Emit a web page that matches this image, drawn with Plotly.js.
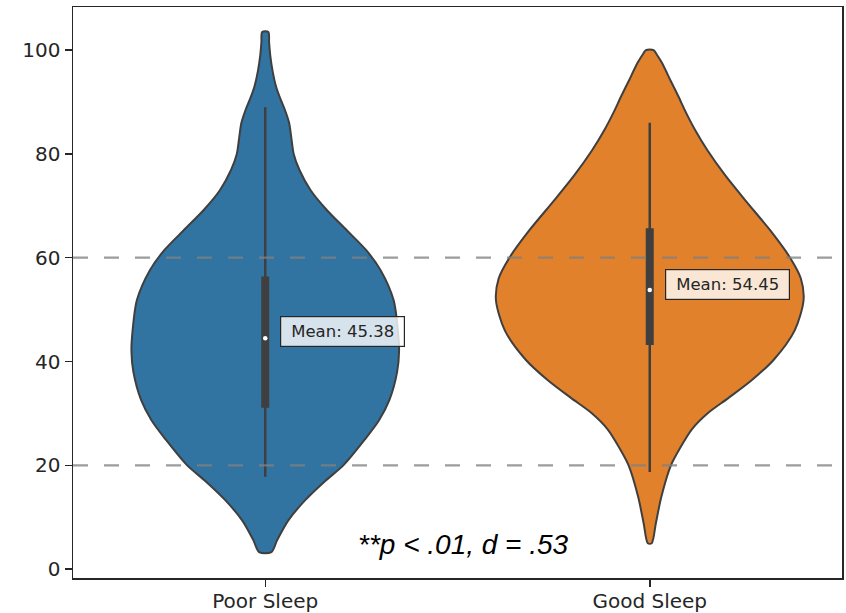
<!DOCTYPE html>
<html>
<head>
<meta charset="utf-8">
<script src="https://cdn.plot.ly/plotly-3.0.1.min.js"></script>
<style>
  html, body { margin: 0; padding: 0; background: #ffffff; }
  #chart { width: 846px; height: 613px; }
</style>
</head>
<body>
<div id="chart"></div>
<script>
// ---- Data ----
const categories = ['Poor Sleep', 'Good Sleep'];
const colors = ['#3274a1', '#e1812c'];

// Kernel-density outline: score levels and violin half-widths (category units)
const poorLevels    = [3.3, 5.6, 9.4, 13.3, 17, 20, 24.9, 28.7, 32.6, 38, 42, 46, 51.8, 57.6, 61.5, 65.3, 69.2, 73, 76.9, 80, 83, 86, 88.5, 90.5, 93, 96, 99, 101.5, 103.5];
const poorHalfWidth = [0.016, 0.031, 0.060, 0.104, 0.156, 0.203, 0.258, 0.296, 0.323, 0.343, 0.348, 0.345, 0.334, 0.300, 0.262, 0.212, 0.160, 0.118, 0.089, 0.074, 0.068, 0.062, 0.051, 0.040, 0.028, 0.019, 0.013, 0.010, 0.008];

const goodLevels    = [5, 8.9, 13.9, 20, 23.5, 27, 30, 33, 36.4, 40.3, 46, 51.8, 56, 60, 65.3, 71.1, 75.9, 80.7, 84.6, 88, 91, 94, 97.5, 99.3, 100];
const goodHalfWidth = [0.005, 0.016, 0.030, 0.055, 0.080, 0.110, 0.150, 0.205, 0.265, 0.322, 0.377, 0.400, 0.393, 0.365, 0.313, 0.248, 0.196, 0.150, 0.118, 0.094, 0.075, 0.055, 0.032, 0.017, 0.010];

// Box statistics
const whiskerLow  = [17.8, 18.7];
const whiskerHigh = [89.0, 86.0];
const q1          = [31.1, 43.2];
const q3          = [56.4, 65.7];
const medians     = [44.5, 53.8];
const means       = [45.38, 54.45];

const yTicks = [0, 20, 40, 60, 80, 100];
const refLines = [20, 60];
const statText = '**p < .01, d = .53';

// ---- Build traces ----
const levels = [poorLevels, goodLevels];
const halfWidths = [poorHalfWidth, goodHalfWidth];
const edge = '#3f3f3f';
const traces = [];

categories.forEach((cat, i) => {
  const ys = levels[i], hw = halfWidths[i];
  const xs = [], yy = [];
  for (let k = 0; k < ys.length; k++) { xs.push(i + hw[k]); yy.push(ys[k]); }
  for (let k = ys.length - 1; k >= 0; k--) { xs.push(i - hw[k]); yy.push(ys[k]); }
  xs.push(xs[0]); yy.push(yy[0]);
  traces.push({
    type: 'scatter', mode: 'lines', x: xs, y: yy,
    fill: 'toself', fillcolor: colors[i],
    line: { color: edge, width: 2, shape: 'spline', smoothing: 0.8 },
    hoverinfo: 'skip', showlegend: false
  });
  // whisker
  traces.push({
    type: 'scatter', mode: 'lines', x: [i, i], y: [whiskerLow[i], whiskerHigh[i]],
    line: { color: edge, width: 2.5 }, hoverinfo: 'skip', showlegend: false
  });
  // box (IQR)
  traces.push({
    type: 'scatter', mode: 'lines', x: [i, i], y: [q1[i], q3[i]],
    line: { color: edge, width: 8 }, hoverinfo: 'skip', showlegend: false
  });
  // median
  traces.push({
    type: 'scatter', mode: 'markers', x: [i], y: [medians[i]],
    marker: { color: '#ffffff', size: 4.5, line: { width: 0 } },
    hoverinfo: 'skip', showlegend: false
  });
});

const annotations = categories.map((cat, i) => ({
  x: i, y: means[i], xref: 'x', yref: 'y',
  xanchor: 'left', yanchor: 'middle', xshift: 15, yshift: 2,
  text: 'Mean: ' + means[i].toFixed(2), showarrow: false,
  width: 115, height: 21, align: 'center',
  font: { family: 'DejaVu Sans', size: 16.5, color: '#262626' },
  bgcolor: 'rgba(255,255,255,0.8)', bordercolor: '#262626', borderwidth: 1.2, borderpad: 4
}));
annotations.push({
  x: 0.508, y: 0.058, xref: 'paper', yref: 'paper',
  xanchor: 'center', yanchor: 'middle', showarrow: false,
  text: '<i>' + statText.replace('<', '&lt;') + '</i>',
  font: { family: 'Liberation Sans', size: 28, color: '#000000' }
});

const shapes = refLines.map(v => ({
  type: 'line', xref: 'paper', yref: 'y', x0: 0, x1: 1, y0: v, y1: v,
  line: { color: 'rgba(128,128,128,0.78)', width: 2.3, dash: '15px,16px' },
  layer: 'above'
}));

const layout = {
  width: 846, height: 613,
  margin: { l: 73, r: 4, t: 7, b: 35 },
  paper_bgcolor: '#ffffff', plot_bgcolor: '#ffffff',
  showlegend: false,
  font: { family: 'DejaVu Sans', size: 20, color: '#262626' },
  xaxis: {
    range: [-0.5, 1.5], tickmode: 'array', tickvals: [0, 1], ticktext: categories,
    showgrid: false, zeroline: false, showline: true, mirror: true,
    linecolor: '#262626', linewidth: 1.5,
    ticks: 'outside', ticklen: 7, tickwidth: 1.5, tickcolor: '#262626',
    ticklabelstandoff: -3,
    tickfont: { family: 'DejaVu Sans', size: 20, color: '#262626' }
  },
  yaxis: {
    range: [-1.7, 108.3], tickmode: 'array', tickvals: yTicks,
    showgrid: false, zeroline: false, showline: true, mirror: true,
    linecolor: '#262626', linewidth: 1.5,
    ticks: 'outside', ticklen: 7, tickwidth: 1.5, tickcolor: '#262626',
    tickfont: { family: 'DejaVu Sans', size: 20, color: '#262626' }
  },
  annotations: annotations,
  shapes: shapes
};

Plotly.newPlot('chart', traces, layout, { displayModeBar: false, staticPlot: true });
</script>
</body>
</html>
